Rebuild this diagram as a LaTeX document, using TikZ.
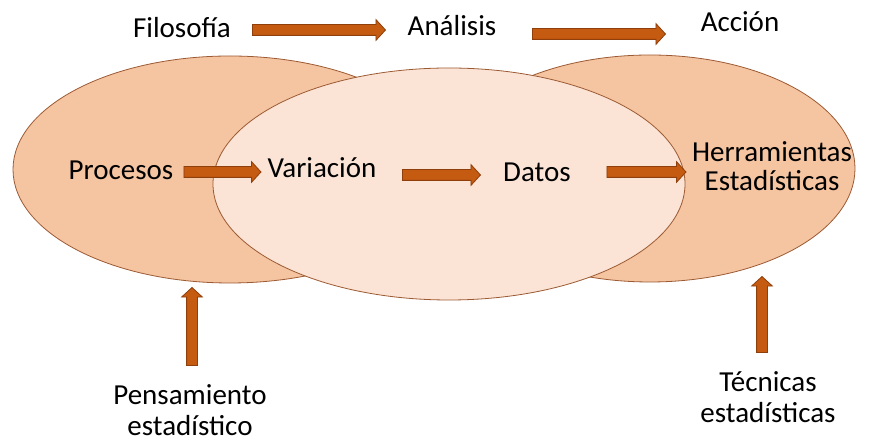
\documentclass[tikz,border=0pt]{standalone}
\usepackage{fontspec}
\setmainfont{Carlito}
\usetikzlibrary{shapes.arrows,shapes.geometric}
\definecolor{outer}{HTML}{F5C4A1}
\definecolor{inner}{HTML}{FBE4D5}
\definecolor{edge}{HTML}{9C5A33}
\definecolor{arrfill}{HTML}{C55A11}
\definecolor{arrline}{HTML}{8E3F0C}
\tikzset{
  lbl/.style={font=\fontsize{29}{33}\selectfont, align=center, inner sep=0pt},
  blk/.style={single arrow, draw=arrline, fill=arrfill, line width=0.8pt,
    single arrow head extend=5pt, single arrow tip angle=95,
    inner xsep=0pt, inner ysep=5pt, anchor=center},
  ell/.style={ellipse, draw=edge, line width=0.8pt, inner sep=0pt}
}
\begin{document}
\begin{tikzpicture}[x=1pt,y=1pt]
\useasboundingbox (0,0) rectangle (873,443);
\node[ell, fill=outer, minimum width=434pt, minimum height=227pt] (L) at (230,273.5) {};
\node[ell, fill=outer, minimum width=410pt, minimum height=227pt] (R) at (650,274.5) {};
\node[ell, fill=inner, minimum width=472pt, minimum height=232pt] (M) at (449,259) {};
\node[lbl] (fil) at (182,415) {Filosofía};
\node[lbl] (ana) at (452,417) {Análisis};
\node[lbl] (acc) at (740,421) {Acción};
\node[lbl] (pro) at (121,273) {Procesos};
\node[lbl] (var) at (322,275) {Variación};
\node[lbl] (dat) at (537,271) {Datos};
\node[lbl] (her) at (772,277) {Herramientas\\[-4pt]Estadísticas};
\node[lbl] (pen) at (190,33) {Pensamiento\\[-2pt]estadístico};
\node[lbl] (tec) at (768,46) {Técnicas\\[-2pt]estadísticas};
\node[blk, minimum height=133pt] (a1) at (316.5,413) {};
\node[blk, minimum height=133pt] (a2) at (596.5,409) {};
\node[blk, minimum height=77pt] (a3) at (220,271) {};
\node[blk, minimum height=78pt] (a4) at (439,268) {};
\node[blk, minimum height=79pt] (a5) at (644,271) {};
\node[blk, minimum height=78pt, rotate=90] (a6) at (192,114) {};
\node[blk, minimum height=76pt, rotate=90] (a7) at (762,126) {};
\end{tikzpicture}
\end{document}
